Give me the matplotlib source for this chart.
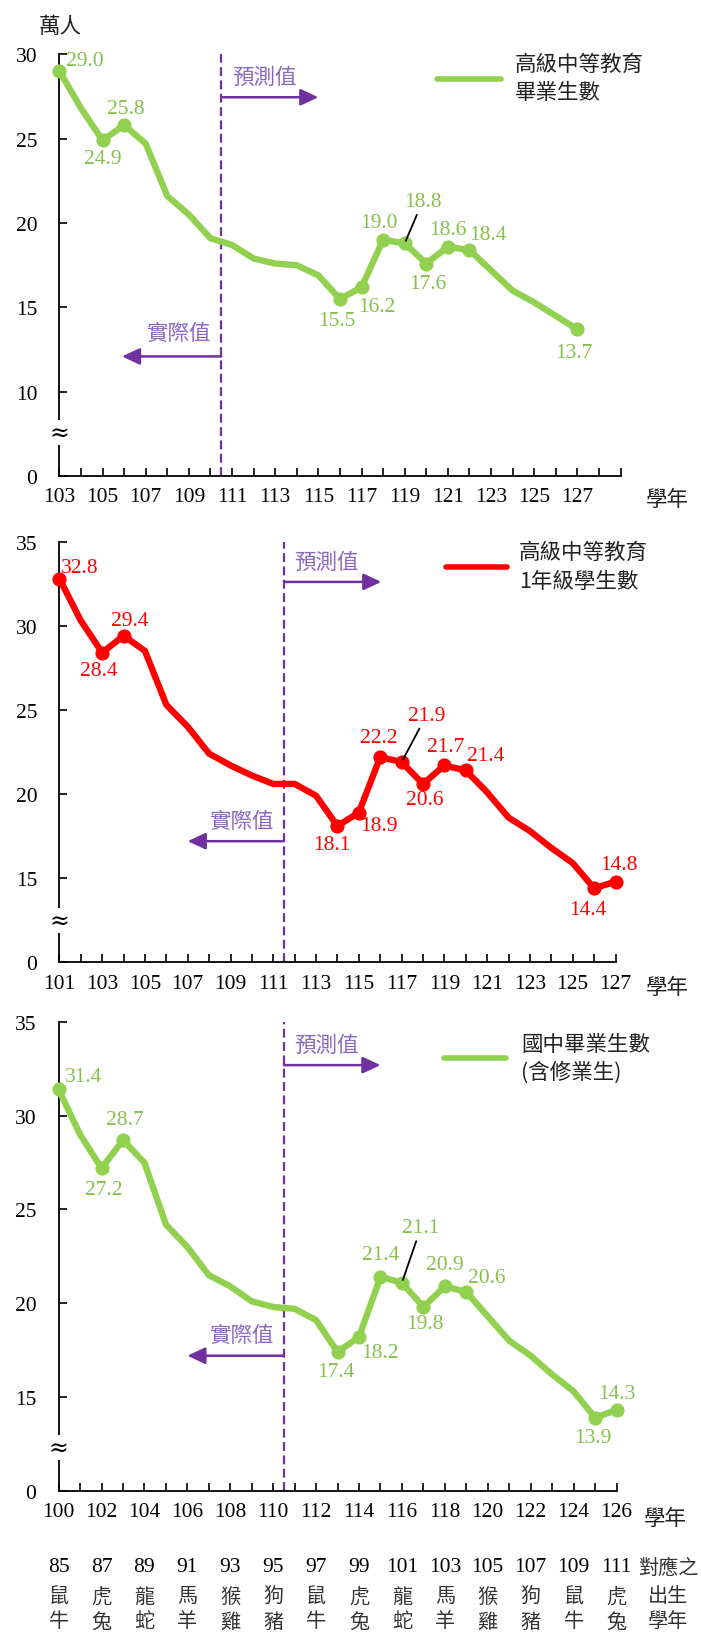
import matplotlib.pyplot as plt
from matplotlib.lines import Line2D
from matplotlib.transforms import blended_transform_factory

# ---- data ----
grad_years = list(range(103, 128))
grad_vals = [29.0, 26.8, 24.9, 25.8, 24.7, 21.6, 20.5, 19.1, 18.7, 17.9, 17.6, 17.5, 16.9,
             15.5, 16.2, 19.0, 18.8, 17.6, 18.6, 18.4, 17.2, 16.0, 15.3, 14.5, 13.7]
grad_marked = [103, 105, 106, 116, 117, 118, 119, 120, 121, 122, 127]

first_years = list(range(101, 128))
first_vals = [32.8, 30.3, 28.4, 29.4, 28.5, 25.3, 24.0, 22.4, 21.7, 21.1, 20.6, 20.6, 19.9, 18.1,
              18.9, 22.2, 21.9, 20.6, 21.7, 21.4, 20.1, 18.6, 17.8, 16.8, 15.9, 14.4, 14.8]
first_marked = [101, 103, 104, 114, 115, 116, 117, 118, 119, 120, 126, 127]

jh_years = list(range(100, 127))
jh_vals = [31.4, 29.0, 27.2, 28.7, 27.5, 24.2, 23.0, 21.5, 20.9, 20.1, 19.8, 19.7, 19.1, 17.4,
           18.2, 21.4, 21.1, 19.8, 20.9, 20.6, 19.3, 18.0, 17.2, 16.2, 15.3, 13.9, 14.3]
jh_marked = [100, 102, 103, 113, 114, 115, 116, 117, 118, 119, 125, 126]

birth_years = list(range(85, 112, 2))
zodiac_a = ["鼠", "虎", "龍", "馬", "猴", "狗", "鼠", "虎", "龍", "馬", "猴", "狗", "鼠", "虎"]
zodiac_b = ["牛", "兔", "蛇", "羊", "雞", "豬", "牛", "兔", "蛇", "羊", "雞", "豬", "牛", "兔"]

# label offsets in pixels (dx right, dy down)
grad_off = {103: (25, -11), 105: (0, 18), 106: (2, -17), 116: (-3, 21), 117: (15, 19),
            118: (-4, -17), 119: (18, -42), 120: (2, 20), 121: (0, -17), 122: (18, -16),
            127: (-3, 23)}
first_off = {101: (20, -11), 103: (-3, 18), 104: (6, -15), 114: (-6, 18), 115: (20, 13),
             116: (-1, -20), 117: (25, -47), 118: (2, 16), 119: (1, -19), 120: (20, -15),
             126: (-6, 21), 127: (3, -17)}
jh_off = {100: (25, -13), 102: (2, 21), 103: (2, -21), 113: (-2, 20), 114: (21, 16),
          115: (0, -22), 116: (19, -55), 117: (2, 17), 118: (0, -22), 119: (20, -14),
          125: (-2, 20), 126: (0, -17)}

W, H = 701, 1633
GREEN = "#92D050"
GREEN_TXT = "#84C14B"
RED = "#FF0000"
PURPLE = "#7030A0"
PURPLE_TXT = "#8B68BE"
CJK = ["Noto Sans CJK TC", "DejaVu Sans"]
FS = 15.5

plt.rcParams["font.family"] = ["Liberation Serif", "Noto Sans CJK TC"]
plt.rcParams["font.size"] = FS

fig = plt.figure(figsize=(W / 100, H / 100), dpi=100)


def rect(left, right, top, bottom):
    return [left / W, 1 - bottom / H, (right - left) / W, (bottom - top) / H]


def fpt(px, py):
    return px / W, 1 - py / H


def panel(ax, years, vals, marked, offs, leader, color, tcolor, xmax, ylo, yhi, split,
          pred_y, pred_txt_y, pred_end, act_y, act_txt_y, act_end, brk):
    ax.plot(years, vals, color=color, lw=4.6, solid_joinstyle="round",
            solid_capstyle="round", zorder=3, clip_on=False)
    ax.plot(marked, [vals[years.index(y)] for y in marked], "o", ms=9.2,
            color=color, zorder=4, clip_on=False)
    for yr in marked:
        v = vals[years.index(yr)]
        dx, dy = offs[yr]
        kw = {}
        if yr == leader:
            kw["arrowprops"] = dict(arrowstyle="-", color="black", lw=1.3,
                                    shrinkA=1, shrinkB=2)
        ax.annotate(f"{v:.1f}", (yr, v), xytext=(dx * 0.72, -dy * 0.72),
                    textcoords="offset points", ha="center", va="center",
                    color=tcolor, fontsize=FS, zorder=6, **kw)

    ax.set_xlim(years[0], xmax)
    ax.set_ylim(ylo, yhi)
    ticks = list(range(years[0], xmax + 1))
    ax.set_xticks(ticks)
    ax.set_xticklabels([str(t) if (t - years[0]) % 2 == 0 and t <= years[-1] else ""
                        for t in ticks])
    yt = list(range(ylo, yhi + 1, 5))
    ax.set_yticks(yt)
    ax.set_yticklabels(["0"] + [str(t) for t in yt[1:]])
    for s in ["top", "right"]:
        ax.spines[s].set_visible(False)
    for s in ["left", "bottom"]:
        ax.spines[s].set_linewidth(1.3)
    ax.tick_params(direction="in", length=6, width=1.2, labelsize=FS)
    ax.tick_params(axis="y", pad=16)
    ax.tick_params(axis="x", pad=8)

    # split line + arrows
    ax.axvline(split, color=PURPLE, lw=1.6, ls=(0, (4, 2)), zorder=2)
    style = "-|>,head_length=0.9,head_width=0.42"
    ax.annotate("", xy=(pred_end, pred_y), xytext=(split, pred_y),
                arrowprops=dict(arrowstyle=style, mutation_scale=12, color=PURPLE,
                                lw=1.8, shrinkA=0, shrinkB=0))
    ax.annotate("", xy=(act_end, act_y), xytext=(split, act_y),
                arrowprops=dict(arrowstyle=style, mutation_scale=12, color=PURPLE,
                                lw=1.8, shrinkA=0, shrinkB=0))
    ax.text(split + 0.5, pred_txt_y, "預測值", family=CJK, color=PURPLE_TXT,
            fontsize=15.5, ha="left", va="center")
    ax.text(split - 0.45, act_txt_y, "實際值", family=CJK, color=PURPLE_TXT,
            fontsize=15.5, ha="right", va="center")

    # axis break mark
    tr = blended_transform_factory(ax.transAxes, ax.transData)
    ax.text(0, brk, "≈", transform=tr, ha="center", va="center", fontsize=17,
            family=["DejaVu Serif"], clip_on=False, zorder=10,
            bbox=dict(facecolor="white", edgecolor="none", pad=0.5))


def legend(color, x0, x1, y, lines, tx, ty0, ty1):
    a, b = fpt(x0, y)
    c, _ = fpt(x1, y)
    fig.add_artist(Line2D([a, c], [b, b], color=color, lw=4.0,
                          solid_capstyle="round", transform=fig.transFigure))
    fig.text(*fpt(tx, ty0), lines[0], family=CJK, fontsize=15.5, ha="left",
             va="center", color="#222222")
    fig.text(*fpt(tx, ty1), lines[1], family=CJK, fontsize=15.5, ha="left",
             va="center", color="#222222")


ax1 = fig.add_axes(rect(59.4, 620.5, 55.2, 477.3))
panel(ax1, grad_years, grad_vals, grad_marked, grad_off, 119, GREEN, GREEN_TXT,
      129, 5, 30, 110.5, 27.45, 28.65, 115, 12.1, 13.5, 105.9, 7.6)
fig.text(*fpt(60, 27), "萬人", family=CJK, fontsize=15.5, ha="center", va="center",
         color="#222222")
legend(GREEN, 437, 501, 80, ["高級中等教育", "畢業生數"], 515, 65, 93)
fig.text(*fpt(667, 500), "學年", family=CJK, fontsize=15.5, ha="center", va="center",
         color="#222222")

ax2 = fig.add_axes(rect(59.4, 615.5, 542.5, 963.4))
panel(ax2, first_years, first_vals, first_marked, first_off, 117, RED, RED,
      127, 10, 35, 111.5, 32.6, 33.8, 116.05, 17.2, 18.4, 107, 12.5)
legend(RED, 446, 507, 568, ["高級中等教育", "1年級學生數"], 519, 553, 582)
fig.text(*fpt(667, 988), "學年", family=CJK, fontsize=15.5, ha="center", va="center",
         color="#222222")

ax3 = fig.add_axes(rect(58.6, 616.5, 1023, 1491.7))
panel(ax3, jh_years, jh_vals, jh_marked, jh_off, 116, GREEN, GREEN_TXT,
      126, 10, 35, 110.5, 32.7, 33.8, 115, 17.2, 18.3, 106, 12.3)
legend(GREEN, 444, 506, 1059, ["國中畢業生數", "(含修業生)"], 521, 1045, 1073)
fig.text(*fpt(665, 1519), "學年", family=CJK, fontsize=15.5, ha="center", va="center",
         color="#222222")

# birth year rows under bottom panel
rows_y = [1568, 1597, 1622]
tb = blended_transform_factory(ax3.transData, fig.transFigure)
xs = jh_years[::2]
for x, by, za, zb in zip(xs, birth_years, zodiac_a, zodiac_b):
    ax3.text(x, 1 - rows_y[0] / H, str(by), transform=tb, ha="center", va="center",
             fontsize=FS, clip_on=False)
    ax3.text(x, 1 - rows_y[1] / H, za, transform=tb, ha="center", va="center",
             family=CJK, fontsize=14.5, color="#333333", clip_on=False)
    ax3.text(x, 1 - rows_y[2] / H, zb, transform=tb, ha="center", va="center",
             family=CJK, fontsize=14.5, color="#333333", clip_on=False)
for py, s in zip(rows_y, ["對應之", "出生", "學年"]):
    fig.text(*fpt(668, py), s, family=CJK, fontsize=14.5, ha="center", va="center",
             color="#333333")

fig.savefig("out.png", dpi=100)
